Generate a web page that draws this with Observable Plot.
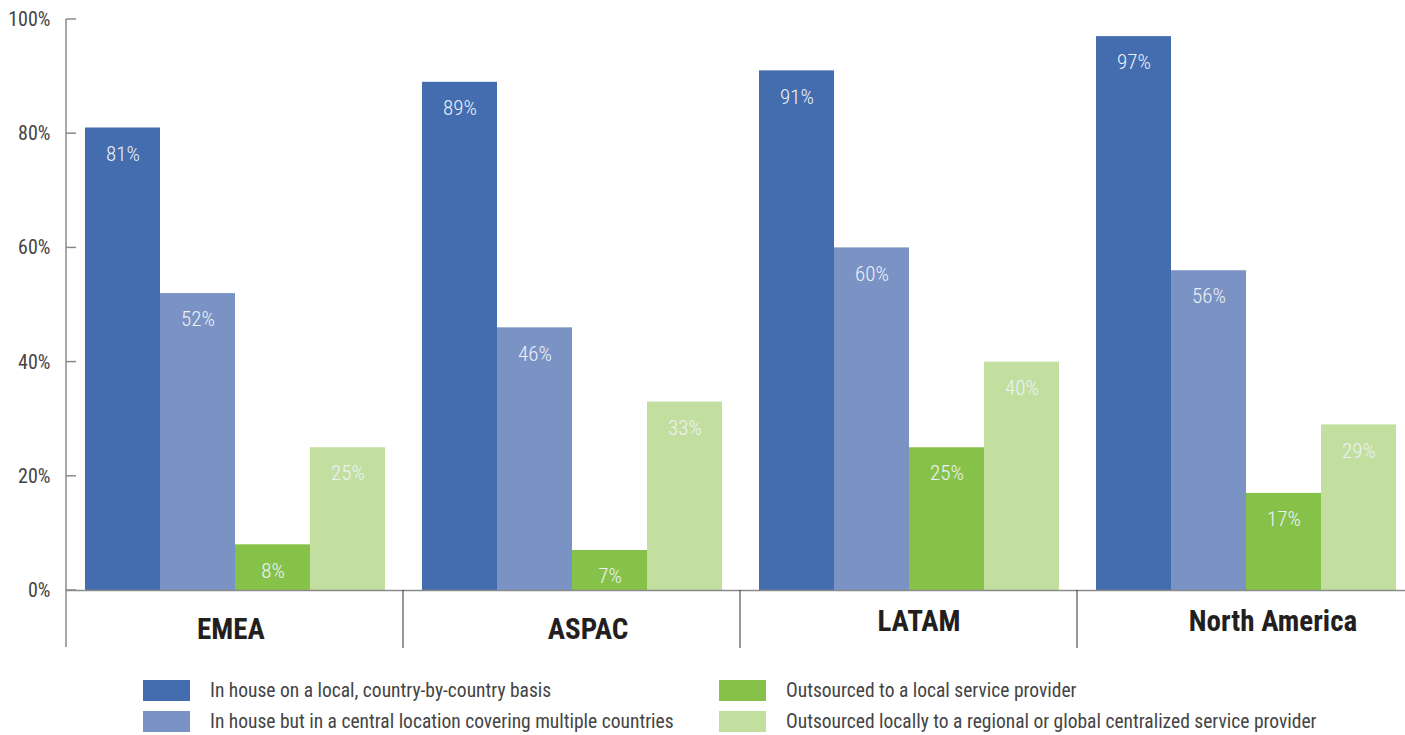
<!DOCTYPE html>
<html><head><meta charset="utf-8">
<script src="https://cdn.jsdelivr.net/npm/d3@7"></script>
<script src="https://cdn.jsdelivr.net/npm/@observablehq/plot@0.6"></script>
<style>
body{margin:0;background:#fff;overflow:hidden;font-family:"Liberation Sans Narrow","Roboto Condensed","DejaVu Sans Condensed",sans-serif;}
#chart svg{display:block;max-width:none !important;}
#legend{display:grid;grid-template-columns:576px auto;grid-template-rows:21px 21px;grid-auto-flow:column;padding-left:143px;margin-top:20px;row-gap:10px;}
.item{display:flex;align-items:center;height:21px;font-size:19.5px;color:#444;white-space:nowrap;}
.sw{width:47px;height:21px;margin-right:20px;flex:none;}
</style></head><body>
<div id="chart"></div><div id="legend"></div>
<script>
const regions = ["EMEA", "ASPAC", "LATAM", "North America"];
const series = [
  "In house on a local, country-by-country basis",
  "In house but in a central location covering multiple countries",
  "Outsourced to a local service provider",
  "Outsourced locally to a regional or global centralized service provider"
];
const colors = ["#446daf", "#7b93c4", "#86c249", "#c2dfa0"];
const inHouseLocal = [81, 89, 91, 97];
const inHouseCentral = [52, 46, 60, 56];
const outsourcedLocal = [8, 7, 25, 17];
const outsourcedRegional = [25, 33, 40, 29];
const yTicks = [0, 20, 40, 60, 80, 100];

// style: small nudges of the region labels as in the original layout
const regionLabelNudge = [[-4, 6], [16, 6], [10, -2], [27, -2]];

const seriesValues = [inHouseLocal, inHouseCentral, outsourcedLocal, outsourcedRegional];
const data = [];
regions.forEach((r, i) => series.forEach((s, j) => data.push({region: r, series: s, value: seriesValues[j][i]})));

const font = '"Liberation Sans Narrow","Roboto Condensed","DejaVu Sans Condensed",sans-serif';

const plot = Plot.plot({
  width: 1414, height: 660,
  marginTop: 19, marginBottom: 70, marginLeft: 66, marginRight: 0,
  style: {fontFamily: font, background: "transparent"},
  fx: {domain: regions, padding: 0, label: null, axis: null},
  x: {domain: series, paddingInner: 0, paddingOuter: 0.22, axis: null},
  y: {domain: [0, 100]},
  color: {domain: series, range: colors},
  marks: [
    Plot.axisY(yTicks, {tickSize: 0, tickPadding: 16, tickFormat: d => d + "%", fontSize: 20, fill: "#444", label: null}),
    Plot.barY(data, {fx: "region", x: "series", y: "value", fill: "series"}),
    Plot.text(data, {fx: "region", x: "series", y: "value", text: d => d.value + "%", dy: 26, fill: "#edf1f7", fontSize: 21, fontWeight: 300}),
    Plot.ruleY([0], {stroke: "#8a8a8a", strokeWidth: 1.5}),
    ...regions.map((r, i) => Plot.text([r], {fx: d => d, text: d => d, frameAnchor: "bottom", lineAnchor: "top",
      dx: regionLabelNudge[i][0], dy: 22 + regionLabelNudge[i][1], fontSize: 29, fontWeight: "bold", fill: "#231f20"}))
  ]
});
document.getElementById("chart").append(plot);

// axis line, inward ticks and region separators, positioned with Plot's own scales
const fxS = plot.scale("fx"), yS = plot.scale("y");
const svg = d3.select(plot);
const x0 = fxS.apply(regions[0]);
const y0 = yS.apply(0);
svg.append("line").attr("x1", x0).attr("x2", x0).attr("y1", yS.apply(100)).attr("y2", y0 + 57)
  .attr("stroke", "#8a8a8a").attr("stroke-width", 1.5);
yTicks.forEach(t => {
  svg.append("line").attr("x1", x0).attr("x2", x0 + 10).attr("y1", yS.apply(t)).attr("y2", yS.apply(t))
    .attr("stroke", "#8a8a8a").attr("stroke-width", 1.5);
});
regions.slice(1).forEach(r => {
  const x = fxS.apply(r);
  svg.append("line").attr("x1", x).attr("x2", x).attr("y1", y0).attr("y2", y0 + 58)
    .attr("stroke", "#333").attr("stroke-width", 1);
});

const legend = document.getElementById("legend");
series.forEach((s, i) => {
  const item = document.createElement("div");
  item.className = "item";
  item.innerHTML = `<span class="sw" style="background:${colors[i]}"></span><span>${s}</span>`;
  legend.append(item);
});
</script>
</body></html>
